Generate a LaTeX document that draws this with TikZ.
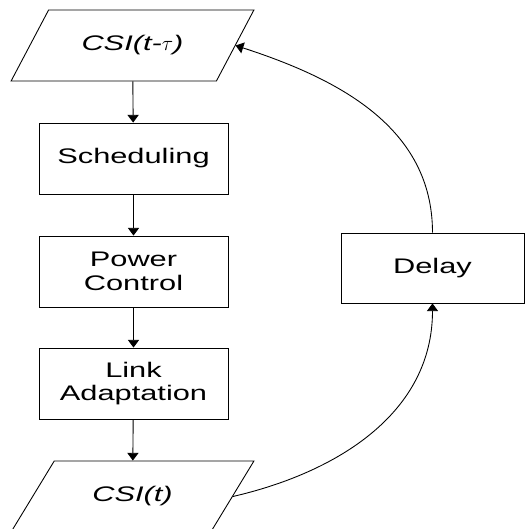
\documentclass[tikz,border=0pt]{standalone}
\usepackage{fontspec}
\newfontfamily\blockfont[FakeStretch=1.46]{Liberation Sans}
\usepackage{tikz}
\usetikzlibrary{
    shapes.geometric,
    arrows.meta
}
\tikzset{
    block/.style={draw, line width=0.5pt, minimum width=3.78cm, minimum height=1.42cm,
        align=center, font=\blockfont\fontsize{12}{13.6}\selectfont},
    io/.style={draw, line width=0.5pt, trapezium, trapezium left angle=51, trapezium right angle=129,
        trapezium stretches=true, minimum width=4.9cm, minimum height=1.42cm,
        font=\blockfont\fontsize{12}{13.6}\selectfont\itshape},
    flow/.style={line width=0.5pt, -{Triangle[length=4.4pt, width=6.4pt]}}
}

\begin{document}
\begin{tikzpicture}
        \useasboundingbox (0, 0) rectangle (10.5, -10.58);

        % Main chain
        \node[io] (csitau) at (2.65, -0.91) {CSI(t-$\tau$)};
        \node[block] (sched) at (2.67, -3.17) {Scheduling};
        \node[block] (power) at (2.67, -5.43) {Power\\Control};
        \node[block] (link) at (2.67, -7.67) {Link\\Adaptation};
        \node[io] (csit) at (2.65, -9.93) {CSI(t)};

        % Feedback loop
        \node[block, minimum width=3.66cm, minimum height=1.4cm] (delay) at (8.65, -5.36) {Delay};

        \draw[flow] (csitau) -- (sched);
        \draw[flow] (sched) -- (power);
        \draw[flow] (power) -- (link);
        \draw[flow] (link) -- (csit);

        \draw[flow] (csit.east) to[out=13, in=-90] (delay.south);
        \draw[flow] (delay.north) to[out=90, in=-18] (csitau.east);
    \end{tikzpicture}
\end{document}
